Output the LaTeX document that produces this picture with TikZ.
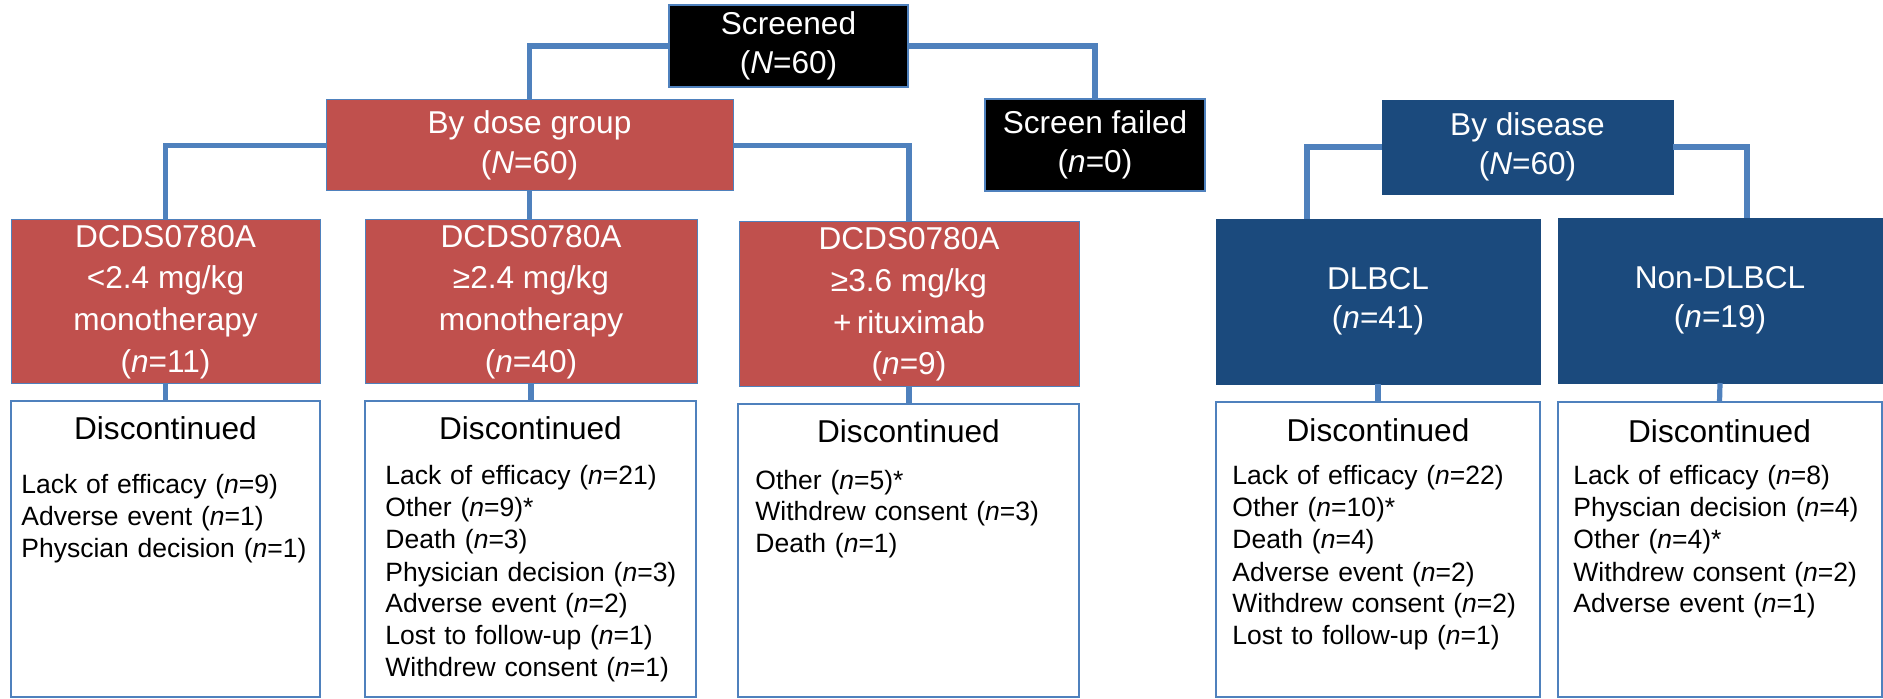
\documentclass[tikz,border=0pt]{standalone}
\usepackage{fontspec}
\setmainfont{Liberation Sans}
\definecolor{linec}{HTML}{4F81BD}
\definecolor{redc}{HTML}{C0504D}
\definecolor{bluec}{HTML}{1B4A7D}
\begin{document}
\begin{tikzpicture}[x=0.5pt,y=-0.5pt,
  box/.style={rectangle,inner sep=0pt,outer sep=0pt,text=white,align=center,
    font=\fontsize{15.8pt}{19.7pt}\selectfont},
  tallbox/.style={font=\fontsize{15.8pt}{20.8pt}\selectfont},
  blackbox/.style={box,fill=black,draw=linec,line width=0.9pt},
  redbox/.style={box,fill=redc,draw=linec,line width=0.5pt},
  bluebox/.style={box,fill=bluec,draw=bluec,line width=0.3pt},
  discbox/.style={rectangle,inner sep=0pt,outer sep=0pt,draw=linec,line width=1pt,fill=white},
  head/.style={inner sep=0pt,anchor=base,font=\fontsize{15.8pt}{19pt}\selectfont},
  items/.style={inner sep=0pt,anchor=base west,align=left,text width=160pt,
    font=\fontsize{13.25pt}{16pt}\selectfont},
  conn/.style={draw=linec,line width=2.6pt}]
\useasboundingbox (0,0) rectangle (1883,699);
% top level
\node[blackbox,minimum width=119.5pt,minimum height=41pt] (scr) at (788.5,46) {Screened\\(\textit{N}=60)};
\node[redbox,minimum width=203.5pt,minimum height=45.5pt] (dose) at (529.5,145.5) {By dose group\\(\textit{N}=60)};
\node[blackbox,minimum width=110pt,minimum height=46pt] (fail) at (1095,145) {Screen failed\\(\textit{n}=0)};
\node[bluebox,minimum width=145.5pt,minimum height=47pt] (dis) at (1527.5,147) {By disease\\(\textit{N}=60)};
% second level
\node[redbox,tallbox,minimum width=154.5pt,minimum height=82pt] (b1) at (165.5,302) {DCDS0780A\\<2.4 mg/kg\\monotherapy\\(\textit{n}=11)};
\node[redbox,tallbox,minimum width=166pt,minimum height=82pt] (b2) at (531,302) {DCDS0780A\\≥2.4 mg/kg\\monotherapy\\(\textit{n}=40)};
\node[redbox,tallbox,minimum width=170pt,minimum height=82.5pt] (b3) at (909,304.5) {DCDS0780A\\≥3.6 mg/kg\\+\,rituximab\\(\textit{n}=9)};
\node[bluebox,minimum width=162pt,minimum height=82.5pt] (dl) at (1378,301.5) {DLBCL\\(\textit{n}=41)};
\node[bluebox,minimum width=162pt,minimum height=82.5pt] (nd) at (1720,300.5) {Non-DLBCL\\(\textit{n}=19)};
% discontinued boxes
\node[discbox,minimum width=154.5pt,minimum height=148pt] (d1) at (165.5,549) {};
\node[discbox,minimum width=165.5pt,minimum height=148pt] (d2) at (530.5,549) {};
\node[discbox,minimum width=170.5pt,minimum height=146.5pt] (d3) at (908.5,550.5) {};
\node[discbox,minimum width=162pt,minimum height=147.5pt] (d4) at (1378,549.5) {};
\node[discbox,minimum width=162pt,minimum height=147.5pt] (d5) at (1719.5,549.5) {};
% connectors
\draw[conn] (scr.west) -| (dose.north);
\draw[conn] (scr.east) -| (fail.north);
\draw[conn] (dose.west) -| (b1.north);
\draw[conn] (dose.east) -| (b3.north);
\draw[conn] (dose.south) -- (dose.south |- b2.north);
\draw[conn] (dis.west) -| ([xshift=-35.5pt]dl.north);
\draw[conn] (dis.east) -| ([xshift=13.5pt]nd.north);
\draw[conn] (b1.south) -- (d1.north);
\draw[conn] (b2.south) -- (b2.south |- d2.north);
\draw[conn] (b3.south) -- (b3.south |- d3.north);
\draw[conn] (dl.south) -- (d4.north);
\draw[conn] (nd.south) -- (d5.north);
% headings
\node[head] (h1) at (165.5,440) {Discontinued};
\node[head] (h2) at (530.5,440) {Discontinued};
\node[head] (h3) at (908.5,443) {Discontinued};
\node[head] (h4) at (1378,442) {Discontinued};
\node[head] (h5) at (1719.5,443) {Discontinued};
% lists
\node[items] (l1) at (21,494) {Lack of efficacy (\textit{n}=9)\\Adverse event (\textit{n}=1)\\Physcian decision (\textit{n}=1)};
\node[items] (l2) at (385,485) {Lack of efficacy (\textit{n}=21)\\Other (\textit{n}=9)*\\Death (\textit{n}=3)\\Physician decision (\textit{n}=3)\\Adverse event (\textit{n}=2)\\Lost to follow-up (\textit{n}=1)\\Withdrew consent (\textit{n}=1)};
\node[items] (l3) at (755,489) {Other (\textit{n}=5)*\\Withdrew consent (\textit{n}=3)\\Death (\textit{n}=1)};
\node[items] (l4) at (1232,485) {Lack of efficacy (\textit{n}=22)\\Other (\textit{n}=10)*\\Death (\textit{n}=4)\\Adverse event (\textit{n}=2)\\Withdrew consent (\textit{n}=2)\\Lost to follow-up (\textit{n}=1)};
\node[items] (l5) at (1573,485) {Lack of efficacy (\textit{n}=8)\\Physcian decision (\textit{n}=4)\\Other (\textit{n}=4)*\\Withdrew consent (\textit{n}=2)\\Adverse event (\textit{n}=1)};
\end{tikzpicture}
\end{document}
